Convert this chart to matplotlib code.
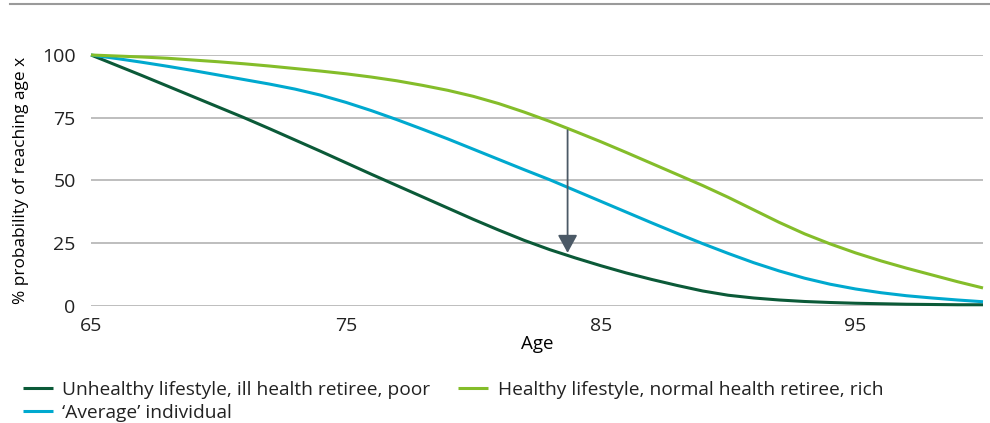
import matplotlib.pyplot as plt
from matplotlib.lines import Line2D

# survival curves: % probability of reaching a given age
ages = list(range(65, 101))
unhealthy = [100, 95.9, 91.8, 87.6, 83.4, 79.2, 75.0, 70.6, 66.1, 61.6,
             57.0, 52.4, 47.9, 43.4, 38.9, 34.4, 30.1, 26.0, 22.3, 19.0,
             15.9, 13.0, 10.4, 8.0, 5.8, 4.1, 3.0, 2.2, 1.6, 1.2,
             0.9, 0.7, 0.5, 0.4, 0.3, 0.3]
average = [100, 98.6, 97.1, 95.5, 93.8, 92.0, 90.2, 88.4, 86.4, 84.0,
           81.1, 77.8, 74.2, 70.4, 66.5, 62.4, 58.3, 54.2, 50.2, 45.9,
           41.6, 37.3, 33.0, 28.8, 24.7, 20.8, 17.1, 13.8, 10.9, 8.5,
           6.6, 5.1, 3.9, 3.0, 2.2, 1.5]
healthy = [100, 99.6, 99.2, 98.7, 98.0, 97.3, 96.5, 95.6, 94.6, 93.6,
           92.5, 91.2, 89.7, 87.9, 85.9, 83.5, 80.6, 77.2, 73.5, 69.5,
           65.4, 61.1, 56.7, 52.3, 47.9, 43.2, 38.2, 33.2, 28.6, 24.6,
           21.0, 17.8, 14.9, 12.2, 9.5, 7.0]

labels = ["Unhealthy lifestyle, ill health retiree, poor",
          "\u2018Average\u2019 individual",
          "Healthy lifestyle, normal health retiree, rich"]
colors = ["#0b5a38", "#00a9cf", "#84bd2a"]

# arrow showing the gap between the two extremes
arrow_age = 83.7
arrow_from = 70
arrow_to = 21

plt.rcParams["font.family"] = ["Open Sans", "DejaVu Sans"]
plt.rcParams["text.color"] = "#222222"

fig = plt.figure(figsize=(9.9, 4.23), dpi=100)
ax = fig.add_axes([91 / 990, 1 - 305.5 / 423, 892 / 990, 250.5 / 423])

for series, lab, col in zip([unhealthy, average, healthy], labels, colors):
    ax.plot(ages, series, color=col, lw=2.2, label=lab, clip_on=False,
            solid_capstyle="butt", solid_joinstyle="round", zorder=3)

ax.annotate("", xy=(arrow_age, arrow_to), xytext=(arrow_age, arrow_from),
            arrowprops=dict(arrowstyle="-|>,head_length=0.55,head_width=0.3",
                            color="#4b5966", lw=1.3, mutation_scale=20,
                            shrinkA=0, shrinkB=0), zorder=4)

ax.set_xlim(65, 100)
ax.set_ylim(0, 100)
ax.set_xticks([65, 75, 85, 95])
ax.set_yticks([0, 25, 50, 75, 100])
ax.grid(axis="y", color="#b3b3b3", lw=1.2)
ax.set_axisbelow(True)
for s in ax.spines.values():
    s.set_visible(False)
ax.tick_params(axis="both", length=0, labelsize=14, colors="#222222")
ax.tick_params(axis="y", pad=11)
ax.tick_params(axis="x", pad=8)

ax.set_xlabel("Age", fontsize=13.5, labelpad=0)
ax.set_ylabel("% probability of reaching age x", fontsize=12.4)
ax.yaxis.set_label_coords(-0.0695, 0.5)

# rule across the top of the figure
fig.add_artist(Line2D([10 / 990, 1], [1 - 4 / 423] * 2, color="#9a9a9a", lw=1.5,
                      transform=fig.transFigure))

fig.legend(loc="upper left", bbox_to_anchor=(23 / 990, 1 - 381 / 423), ncol=2,
           frameon=False, borderpad=0, borderaxespad=0, handlelength=1.55,
           handletextpad=0.5, columnspacing=1.45, labelspacing=0.27, fontsize=13.8)

fig.savefig("out.png", dpi=100)
